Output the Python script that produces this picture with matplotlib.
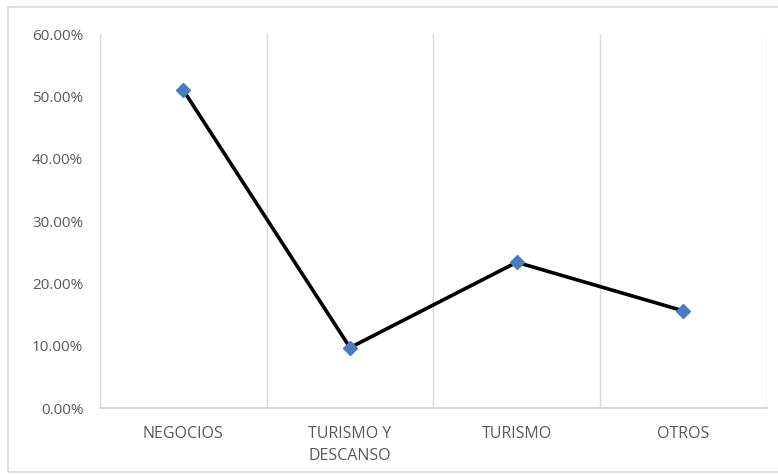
import matplotlib
matplotlib.use("Agg")
import matplotlib.pyplot as plt
from matplotlib.ticker import FuncFormatter, FixedLocator
from matplotlib.patches import Rectangle

categories = ["NEGOCIOS", "TURISMO Y\nDESCANSO", "TURISMO", "OTROS"]
values = [51.0, 9.7, 23.4, 15.6]
y_ticks = [0, 10, 20, 30, 40, 50, 60]

plt.rcParams["font.family"] = ["Open Sans", "DejaVu Sans"]

fig = plt.figure(figsize=(7.78, 4.74), dpi=100)
ax = fig.add_axes([0.1285, 0.139, 0.857, 0.789])

x = list(range(len(categories)))
ax.plot(x, values, color="black", linewidth=2.6, zorder=3,
        marker="D", markersize=7, markerfacecolor="#4a7cc4",
        markeredgecolor="#4a7cc4")

ax.set_xlim(-0.5, len(categories) - 0.5)
ax.set_ylim(0, 60)
ax.set_yticks(y_ticks)
ax.yaxis.set_major_formatter(FuncFormatter(lambda v, p: f"{v:.2f}%"))
ax.set_xticks(x)
ax.set_xticklabels(categories, linespacing=1.5)

# vertical separators at every category boundary
ax.xaxis.set_minor_locator(FixedLocator([i - 0.5 for i in range(len(categories) + 1)]))
ax.grid(which="minor", axis="x", color="#d9d9d9", linewidth=1)
ax.grid(which="major", visible=False)

for side in ("left", "top", "right"):
    ax.spines[side].set_visible(False)
ax.spines["bottom"].set_color("#d0d0d0")
ax.spines["bottom"].set_linewidth(1.2)

ax.tick_params(axis="both", which="both", length=0, colors="#595959")
ax.tick_params(axis="y", labelsize=11, pad=12)
ax.tick_params(axis="x", labelsize=11.5, pad=13)

# outer chart frame
fig.patches.append(Rectangle((8 / 778, 2 / 474), 1.0, 1 - 9 / 474,
                             transform=fig.transFigure, fill=False,
                             edgecolor="#d9d9d9", linewidth=1.2))

fig.savefig("out.png", dpi=100, facecolor="white")
